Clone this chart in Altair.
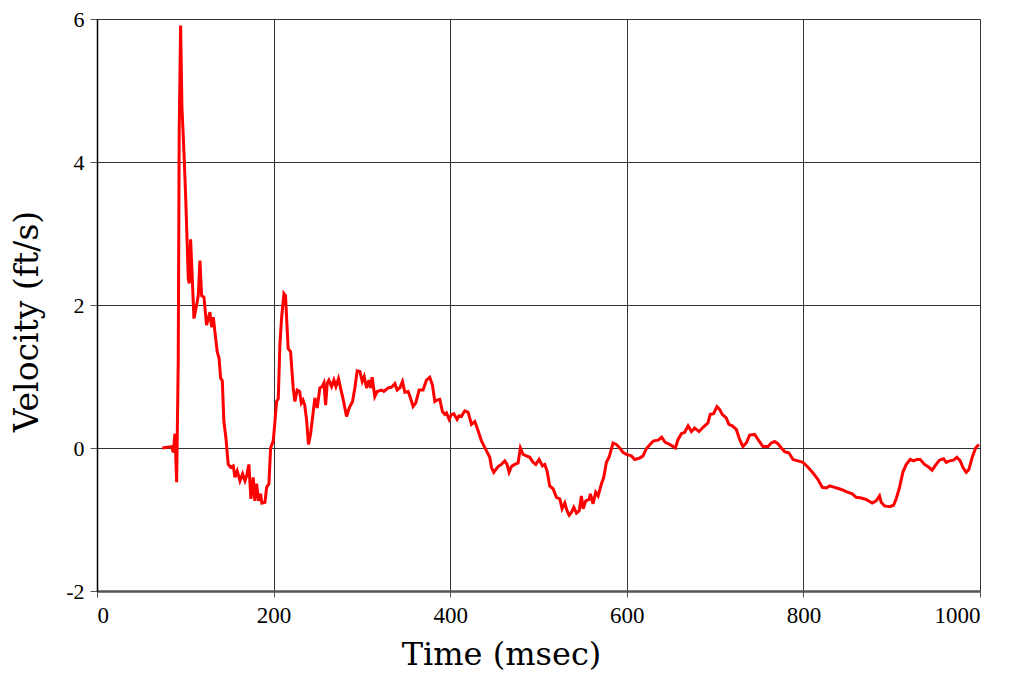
import altair as alt
import pandas as pd

time_ms = [74, 84.5, 86.4, 88.3, 90.2, 92, 93.1, 94.7, 96.2, 98.5, 100.4, 103.4, 104.5, 106, 107.9,
           109.8, 112.8, 114.7, 116.6, 118.5, 121.1, 124.1, 127.9, 129.8, 131.7, 133.6, 136.1, 138.3,
           140, 141.9, 143.7, 146, 148.6, 151.3, 154.3, 156.2, 158.8, 161.9, 164.9, 167.6, 169.5, 172,
           174.3, 176.9, 178.8, 180.7, 183, 185.2, 186.7, 190.2, 192.1, 194.7, 196.6, 199.6, 201.5,
           203.4, 205.3, 207.1, 209, 211.7, 213.5, 216.5, 219.2, 222.2, 224.1, 226.7, 229.5, 231.4,
           233.3, 235.2, 237.3, 239.5, 241.8, 244.9, 246.8, 249.4, 252.4, 255.1, 257, 258.9, 260.8,
           262.6, 265.7, 268.3, 270.6, 273.5, 275.8, 278.8, 282.6, 285.6, 289.4, 292, 294.7, 297.7,
           300.4, 302.6, 305.3, 308, 309.9, 311.6, 314.6, 317.3, 322.2, 324.9, 329.8, 333.6, 337.3,
           340, 343, 346, 348.6, 352.4, 355, 358, 361, 364.8, 369.3, 373.1, 376.9, 379.9, 382.6,
           385.2, 388.2, 391.2, 393.9, 395.8, 398.8, 401.4, 404.1, 407.8, 410, 412.7, 416.5, 420.3,
           424.1, 427.9, 431.6, 435.4, 441.1, 444.8, 446.7, 449.3, 454.2, 458, 461.8, 464.4, 466.7,
           469.3, 473.1, 476.9, 479.5, 482.5, 486.3, 490.1, 493.9, 496.9, 500.7, 504.5, 507.1, 509.7,
           512.7, 516.5, 520.3, 524.1, 526.7, 529.8, 532.4, 534.7, 537.3, 540, 543, 546, 548.6, 550.5,
           553.5, 557.3, 558.8, 561.8, 564.8, 567.5, 571.3, 573.9, 576.9, 579.9, 584.4, 588.2, 592,
           595.7, 599.5, 605.2, 609, 614.6, 618.4, 622.1, 627.8, 630.5, 635.4, 639.5, 643.5, 648.5,
           655, 658.1, 661.8, 665.6, 669.4, 673.2, 676.9, 681.8, 686.4, 691.9, 694.5, 698.3, 702.1,
           705.1, 708.1, 712.6, 715.6, 719.4, 724, 727.8, 731.5, 735.3, 739.1, 744.7, 748.5, 754.2,
           759.9, 763.7, 767.4, 771.2, 775, 778.8, 783.7, 788.2, 793.9, 799.5, 805.2, 810.9, 816.5,
           821.4, 826, 829.7, 835.4, 840.3, 842.9, 848.5, 855.3, 859.8, 865.5, 871.1, 877.9, 882.4,
           886.2, 888.1, 891.9, 897.6, 902.1, 905.1, 908.9, 912.6, 916.4, 921, 924.7, 928.5, 932.3,
           937.2, 942.1, 945.8, 950.3, 954.1, 958.7, 961.7, 965.5, 970, 973.8, 977.6, 980.6, 984.4,
           987.4, 991.2, 995, 998.7]

velocity = [0, 0.02, -0.06, 0.2, -0.48, 1.21, 4.45, 5.91, 4.77, 4.13, 3.52, 2.37, 2.30, 2.92, 2.37,
            1.81, 2.0, 2.13, 2.62, 2.13, 2.11, 1.72, 1.90, 1.69, 1.83, 1.62, 1.35, 1.25,
            0.98, 0.94, 0.37, 0.14, -0.23, -0.27, -0.25, -0.41, -0.32, -0.46, -0.36, -0.46, -0.39, -0.23,
            -0.71, -0.41, -0.74, -0.50, -0.74, -0.64, -0.77, -0.76, -0.55, -0.50, 0.0, 0.10, 0.37,
            0.65, 0.69, 1.44, 1.81, 2.16, 2.13, 1.39, 1.35, 0.84, 0.65, 0.81, 0.79, 0.63,
            0.67, 0.60, 0.40, 0.05, 0.19, 0.51, 0.70, 0.56, 0.84, 0.86, 0.91, 0.60, 0.91,
            0.95, 0.86, 0.95, 0.86, 0.97, 0.84, 0.68, 0.44, 0.56, 0.65, 0.84, 1.08, 1.07,
            0.93, 1.0, 0.84, 0.95, 0.84, 0.99, 0.72, 0.79, 0.81, 0.79, 0.84, 0.85, 0.90,
            0.81, 0.84, 0.93, 0.78, 0.79, 0.70, 0.58, 0.63, 0.81, 0.81, 0.95, 0.99, 0.88, 0.65,
            0.67, 0.68, 0.51, 0.47, 0.49, 0.40, 0.47, 0.48, 0.40, 0.45, 0.44, 0.52, 0.50,
            0.33, 0.37, 0.24, 0.10, -0.04, -0.13, -0.27, -0.34, -0.26, -0.23, -0.18, -0.23, -0.34,
            -0.26, -0.23, -0.21, 0.0, -0.09, -0.11, -0.13, -0.20, -0.23, -0.16, -0.25, -0.23, -0.32,
            -0.53, -0.57, -0.69, -0.71, -0.85, -0.77, -0.88, -0.94, -0.90, -0.83, -0.91, -0.88, -0.67, -0.85,
            -0.74, -0.72, -0.64, -0.78, -0.62, -0.67, -0.50, -0.41, -0.20, -0.13, 0.07, 0.05, 0.0,
            -0.06, -0.09, -0.11, -0.16, -0.14, -0.11, -0.01, 0.07, 0.10, 0.11, 0.15, 0.08, 0.05,
            0.0, 0.12, 0.20, 0.22, 0.31, 0.23, 0.28, 0.23, 0.29, 0.35, 0.47, 0.48, 0.58,
            0.54, 0.47, 0.42, 0.33, 0.31, 0.26, 0.12, 0.02, 0.07, 0.18, 0.19, 0.12, 0.02,
            0.02, 0.07, 0.09, 0.06, 0.0, -0.05, -0.07, -0.16, -0.18, -0.20, -0.27, -0.35, -0.44,
            -0.55, -0.56, -0.53, -0.55, -0.57, -0.58, -0.61, -0.64, -0.69, -0.70, -0.72, -0.77, -0.74,
            -0.67, -0.76, -0.81, -0.82, -0.80, -0.71, -0.55, -0.34, -0.23, -0.16, -0.18, -0.16, -0.16,
            -0.23, -0.27, -0.31, -0.23, -0.17, -0.15, -0.20, -0.18, -0.17, -0.13, -0.18, -0.27, -0.34,
            -0.30, -0.13, 0.0, 0.05]

x_ticks = [0, 200, 400, 600, 800, 1000]
y_ticks = [-2, 0, 2, 4, 6]

df = pd.DataFrame({"t": time_ms, "v": velocity})

chart = alt.Chart(df).mark_line(color="#ff0000", strokeWidth=3, interpolate="linear").encode(
    x=alt.X("t:Q",
            scale=alt.Scale(domain=[0, 1000], nice=False),
            axis=alt.Axis(values=x_ticks, title="Time (msec)",
                          labelExpr="'' + datum.value",
                          grid=True, gridColor="#333333", gridWidth=1,
                          domainColor="#555555", domainWidth=2.5,
                          tickColor="#555555", tickSize=6, tickWidth=1,
                          labelFont="Liberation Serif", labelFontSize=23, labelColor="#000000",
                          labelPadding=7,
                          titleFont="DejaVu Serif", titleFontSize=32, titleFontWeight="normal",
                          titleColor="#000000", titleX=404, titleY=63, titleBaseline="middle",
                          titleAlign="center")),
    y=alt.Y("v:Q",
            scale=alt.Scale(domain=[-2, 6], nice=False, zero=False),
            axis=alt.Axis(values=y_ticks, title="Velocity (ft/s)",
                          labelExpr="'' + datum.value",
                          grid=True, gridColor="#333333", gridWidth=1,
                          domainColor="#000000", domainWidth=1.5,
                          tickColor="#555555", tickSize=7, tickWidth=1,
                          labelFont="Liberation Serif", labelFontSize=22, labelColor="#000000",
                          labelPadding=6,
                          titleFont="DejaVu Serif", titleFontSize=33, titleFontWeight="normal",
                          titleColor="#000000", titleAngle=-90, titleX=-70, titleY=302,
                          titleBaseline="middle", titleAlign="center")),
).properties(
    width=883,
    height=572,
    autosize=alt.AutoSizeParams(type="none"),
    padding={"left": 89, "top": 11, "right": 30, "bottom": 90},
    background="#ffffff",
).configure_view(strokeWidth=0)

chart.save("out.html", embed_options={"renderer": "svg", "actions": False})
